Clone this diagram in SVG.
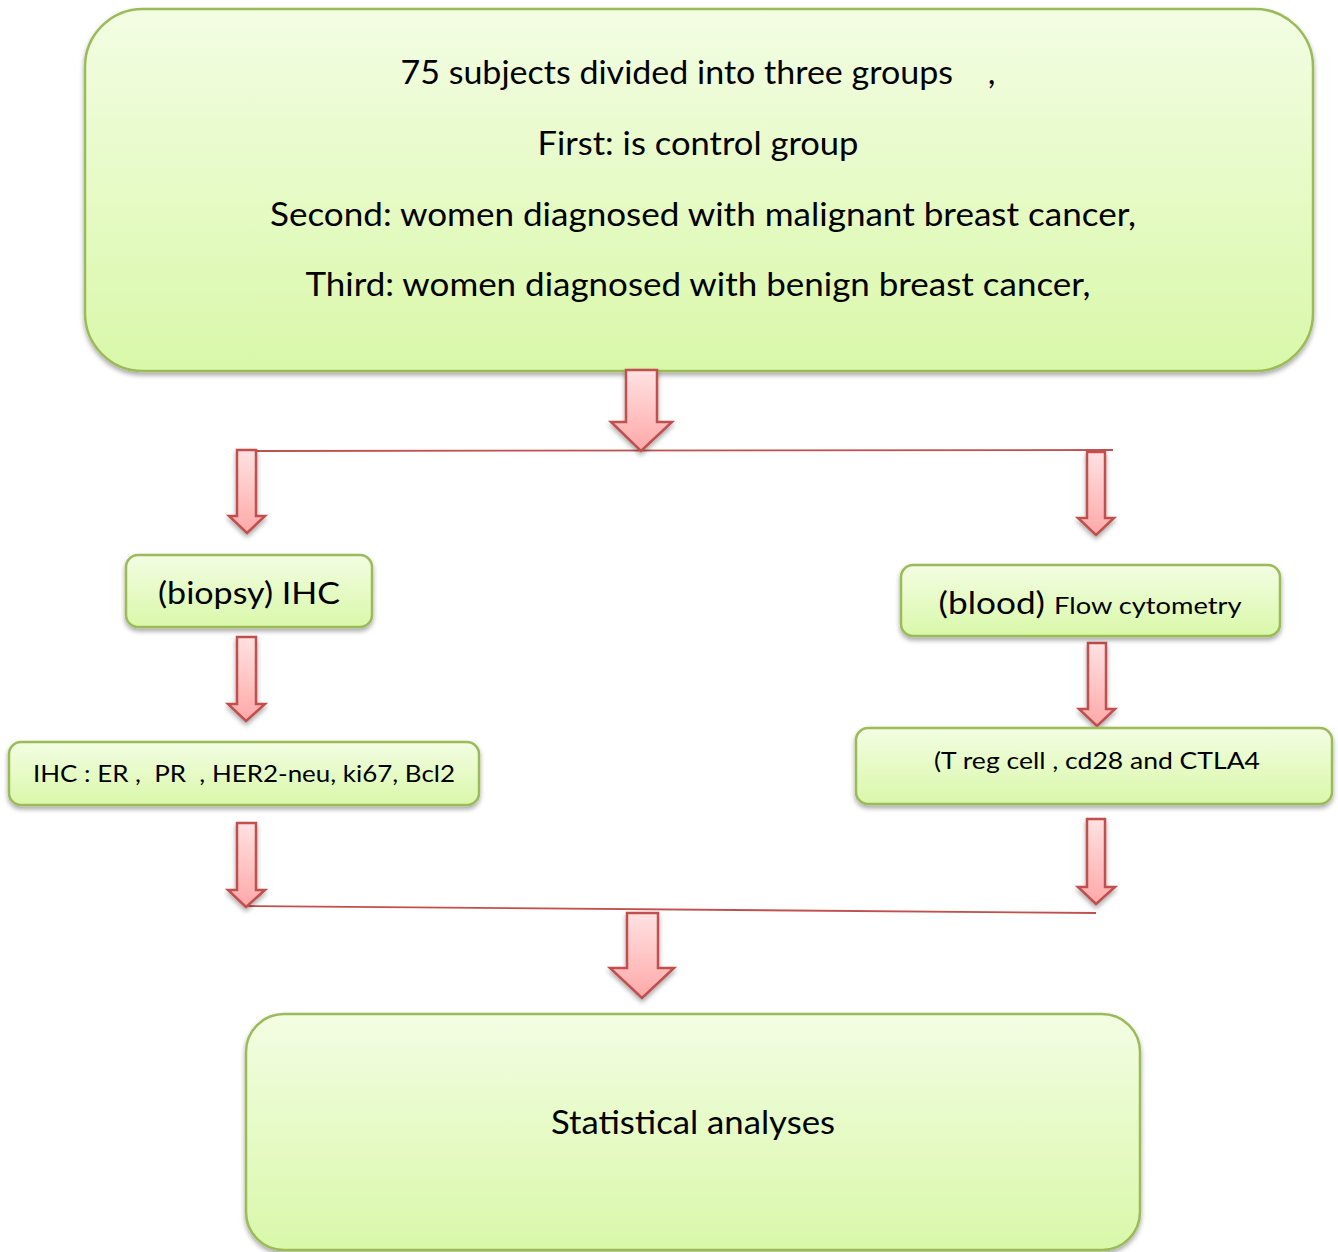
<svg xmlns="http://www.w3.org/2000/svg" width="1338" height="1252" viewBox="0 0 1338 1252">
<defs>
<linearGradient id="gb" x1="0" y1="0" x2="0" y2="1">
<stop offset="0" stop-color="#f3fde3"/>
<stop offset="1" stop-color="#d9f8a9"/>
</linearGradient>
<linearGradient id="ga" x1="0" y1="0" x2="0" y2="1">
<stop offset="0" stop-color="#ffe2e2"/>
<stop offset="1" stop-color="#ffa8a8"/>
</linearGradient>
<filter id="sh" x="-10%" y="-10%" width="120%" height="130%">
<feGaussianBlur in="SourceAlpha" stdDeviation="2.5"/>
<feOffset dx="0" dy="3" result="b"/>
<feComponentTransfer><feFuncA type="linear" slope="0.35"/></feComponentTransfer>
<feMerge><feMergeNode/><feMergeNode in="SourceGraphic"/></feMerge>
</filter>
</defs>
<style>
.box{fill:url(#gb);stroke:#9bbb59;stroke-width:2.5;filter:url(#sh)}
.arr{fill:url(#ga);stroke:#c0504d;stroke-width:2.5;stroke-linejoin:miter;filter:url(#sh)}
.ln{stroke:#c0504d;stroke-width:1.8;fill:none}
text{font-family:Lato,"Open Sans","Liberation Sans",sans-serif;fill:#000;text-anchor:middle}
.t1{font-size:33px}
</style>
<g id="top">
<rect class="box" x="85" y="9" width="1228" height="362" rx="58"/>
<text class="t1" x="698" y="84" textLength="595" lengthAdjust="spacingAndGlyphs" xml:space="preserve">75 subjects divided into three groups    ,</text>
<text class="t1" x="698" y="155" textLength="321" lengthAdjust="spacingAndGlyphs">First: is control group</text>
<text class="t1" x="703" y="226" textLength="866" lengthAdjust="spacingAndGlyphs">Second: women diagnosed with malignant breast cancer,</text>
<text class="t1" x="698" y="296" textLength="785" lengthAdjust="spacingAndGlyphs">Third: women diagnosed with benign breast cancer,</text>
</g>
<g id="connectors">
<path class="ln" d="M257 451 L1113 450"/>
<path class="ln" d="M246 906 L1096 913"/>
<path class="arr" d="M626 370 H657 V422 H672 L641 451 L611 422 H626 Z"/>
<path class="arr" d="M237 450 H256 V516 H265 L247 533 L229 516 H237 Z"/>
<path class="arr" d="M1087 452 H1105 V518 H1114 L1096 535 L1078 518 H1087 Z"/>
<path class="arr" d="M237 637 H256 V704 H265 L246 721 L228 704 H237 Z"/>
<path class="arr" d="M1088 643 H1106 V709 H1115 L1097 726 L1079 709 H1088 Z"/>
<path class="arr" d="M237 823 H256 V890 H265 L246 907 L228 890 H237 Z"/>
<path class="arr" d="M1087 819 H1105 V887 H1115 L1096 904 L1078 887 H1087 Z"/>
<path class="arr" d="M627 913 H658 V968 H674 L642 998 L610 968 H627 Z"/>
</g>
<g id="biopsy">
<rect class="box" x="126" y="555" width="246" height="72" rx="12"/>
<text x="249" y="604" font-size="31" textLength="182" lengthAdjust="spacingAndGlyphs">(biopsy) IHC</text>
</g>
<g id="blood">
<rect class="box" x="901" y="565" width="379" height="71" rx="12"/>
<text x="1090" y="614" textLength="303" lengthAdjust="spacingAndGlyphs"><tspan font-size="31">(blood) </tspan><tspan font-size="24">Flow cytometry</tspan></text>
</g>
<g id="ihc">
<rect class="box" x="9" y="742" width="470" height="63" rx="12"/>
<text x="244" y="782" font-size="23" textLength="422" lengthAdjust="spacingAndGlyphs" xml:space="preserve">IHC : ER ,  PR  , HER2-neu, ki67, Bcl2</text>
</g>
<g id="treg">
<rect class="box" x="856" y="728" width="476" height="76" rx="12"/>
<text x="1097" y="769" font-size="23" textLength="326" lengthAdjust="spacingAndGlyphs">(T reg cell , cd28 and CTLA4</text>
</g>
<g id="stats">
<rect class="box" x="246" y="1014" width="894" height="236" rx="38"/>
<text x="693" y="1134" font-size="32" textLength="284" lengthAdjust="spacingAndGlyphs">Statistical analyses</text>
</g>
</svg>
